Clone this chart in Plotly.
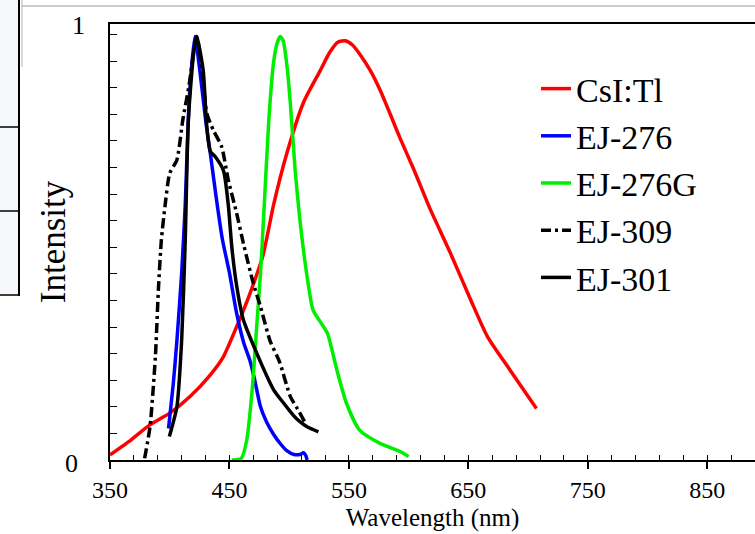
import plotly.graph_objects as go

# ---------------- data ----------------
csi_x = [350, 368, 383, 400, 417, 434, 445, 456, 467, 478, 487, 498, 512, 526, 534,
         541, 547, 553, 560, 568, 576, 585, 593, 604, 618, 635, 652, 666, 685, 707]
csi_y = [0.012, 0.048, 0.082, 0.11, 0.149, 0.2, 0.243, 0.313, 0.39, 0.48, 0.6, 0.72,
         0.84, 0.915, 0.958, 0.982, 0.985, 0.975, 0.95, 0.915, 0.87, 0.81, 0.755, 0.685,
         0.59, 0.486, 0.376, 0.29, 0.211, 0.121]

ej276_x = [399, 403, 406, 410, 413, 415, 417, 421, 425, 430, 434, 439, 444, 450, 456,
           462, 467, 471, 476, 481, 487, 493, 498, 504, 509, 512, 514, 515]
ej276_y = [0.074, 0.18, 0.28, 0.44, 0.6, 0.76, 0.877, 0.995, 0.92, 0.8, 0.72, 0.615,
           0.52, 0.44, 0.345, 0.275, 0.235, 0.19, 0.125, 0.09, 0.06, 0.037, 0.022, 0.013,
           0.013, 0.017, 0.01, 0.0]

ej276g_x = [452, 460, 464.5, 469, 473, 476, 478.5, 483, 487, 490, 492.5, 495, 498, 501,
            505, 509, 515, 520, 526, 532, 540, 548, 559, 576, 593, 600]
ej276g_y = [0.0, 0.004, 0.047, 0.164, 0.321, 0.439, 0.564, 0.8, 0.935, 0.98, 0.995, 0.985,
            0.93, 0.838, 0.681, 0.564, 0.431, 0.352, 0.325, 0.298, 0.211, 0.133, 0.07,
            0.039, 0.02, 0.008]

ej309_x = [379, 383.5, 388, 390.5, 393, 396, 400, 406, 411, 416, 422.5, 427, 431, 436.5,
           443.5, 449, 456, 462, 470, 476, 484, 492, 501, 507, 513]
ej309_y = [0.004, 0.078, 0.243, 0.4, 0.517, 0.595, 0.674, 0.705, 0.8, 0.877, 0.995,
           0.916, 0.815, 0.775, 0.736, 0.658, 0.58, 0.505, 0.415, 0.36, 0.28, 0.23,
           0.149, 0.12, 0.09]

ej301_x = [399.7, 406, 410, 413, 415.6, 420, 422.6, 428, 431, 434, 438, 445, 449, 452,
           456, 461.6, 473, 487, 495, 503.5, 509, 515, 524.5]
ej301_y = [0.055, 0.125, 0.282, 0.517, 0.8, 0.955, 0.995, 0.916, 0.783, 0.725, 0.713,
           0.68, 0.6, 0.5, 0.41, 0.33, 0.25, 0.165, 0.135, 0.105, 0.09, 0.078, 0.066]

names = ["CsI:Tl", "EJ-276", "EJ-276G", "EJ-309", "EJ-301"]

# ---------------- figure ----------------
W, H = 755, 534
L, R, T, B = 110, 0, 24, 74

fig = go.Figure()
series = [
    (csi_x, csi_y, "#ff0000", "solid"),
    (ej276_x, ej276_y, "#0000ff", "solid"),
    (ej276g_x, ej276g_y, "#00ee00", "solid"),
    (ej309_x, ej309_y, "#000000", "10px,4px,3px,4px"),
    (ej301_x, ej301_y, "#000000", "solid"),
]
for (xs, ys, col, dash), nm in zip(series, names):
    fig.add_trace(go.Scatter(
        x=xs, y=ys, mode="lines", name=nm, legendgroup=nm,
        line=dict(color=col, width=3.5, dash=dash, shape="spline", smoothing=0.6),
    ))
# invisible trace on overlay axis for minor ticks
fig.add_trace(go.Scatter(x=[350], y=[0], xaxis="x2", mode="markers",
                         marker=dict(opacity=0), showlegend=False, hoverinfo="skip"))

ytop = 436 / 425.6
serif = "Liberation Serif, Times New Roman, serif"

fig.update_layout(
    width=W, height=H,
    margin=dict(l=L, r=R, t=T, b=B, autoexpand=False),
    paper_bgcolor="white", plot_bgcolor="white",
    font=dict(family=serif, color="black"),
    showlegend=True,
    legend=dict(x=(536 - L) / (W - L - R), y=1.0 - (60 - T) / (H - T - B),
                xanchor="left", yanchor="top", bgcolor="rgba(0,0,0,0)",
                font=dict(size=34, family=serif), tracegroupgap=0,
                itemwidth=30),
    xaxis=dict(range=[350, 890], showgrid=False, zeroline=False,
               showline=True, linecolor="black", linewidth=2, mirror=True,
               ticks="outside", ticklen=7, tickwidth=1.5, tickcolor="black",
               tickvals=[350, 450, 550, 650, 750, 850],
               tickfont=dict(size=24, family=serif),
               title=dict(text="Wavelength (nm)", font=dict(size=25, family=serif), standoff=7)),
    xaxis2=dict(range=[350, 890], overlaying="x", side="bottom", showgrid=False,
                zeroline=False, showline=False, ticks="inside", ticklen=5,
                tickwidth=1.2, tickcolor="black", dtick=20, tick0=350,
                showticklabels=False),
    yaxis=dict(range=[0, ytop], showgrid=False, zeroline=False,
               showline=True, linecolor="black", linewidth=2,
               ticks="inside", ticklen=7, tickwidth=1.2, tickcolor="black",
               dtick=0.0625, tick0=0, showticklabels=False,
               title=dict(text="Intensity", font=dict(size=35, family=serif), standoff=32)),
)

def px(xp):
    return (xp - L) / (W - L - R)
def py(yp):
    return 1.0 - (yp - T) / (H - T - B)

# y tick labels (custom placement, as in reference)
fig.add_annotation(text="1", x=px(78), y=py(25), xref="paper", yref="paper",
                   showarrow=False, font=dict(size=26, family=serif),
                   xanchor="center", yanchor="middle")
fig.add_annotation(text="0", x=px(71), y=py(463), xref="paper", yref="paper",
                   showarrow=False, font=dict(size=26, family=serif),
                   xanchor="center", yanchor="middle")

# screenshot frame remnants around the chart
shapes = [
    dict(type="rect", x0=px(0), x1=px(19), y0=py(0), y1=py(295),
         fillcolor="#f6f8fb", line=dict(width=0)),
    dict(type="line", x0=px(19), x1=px(19), y0=py(0), y1=py(296),
         line=dict(color="black", width=2)),
    dict(type="line", x0=px(0), x1=px(19), y0=py(127), y1=py(127),
         line=dict(color="black", width=1.5)),
    dict(type="line", x0=px(0), x1=px(19), y0=py(211), y1=py(211),
         line=dict(color="black", width=1.5)),
    dict(type="line", x0=px(0), x1=px(19), y0=py(295), y1=py(295),
         line=dict(color="black", width=1.5)),
    dict(type="line", x0=px(22), x1=px(22), y0=py(0), y1=py(67),
         line=dict(color="#cccccc", width=1.5)),
    dict(type="line", x0=px(22), x1=px(755), y0=py(6), y1=py(6),
         line=dict(color="#bbbbbb", width=1.5)),
]
for s in shapes:
    s.update(xref="paper", yref="paper", layer="above")
fig.update_layout(shapes=shapes)

fig.write_html("out.html", config={"displayModeBar": False},
               post_script="document.body.style.margin='0px';document.body.style.overflow='hidden';")
